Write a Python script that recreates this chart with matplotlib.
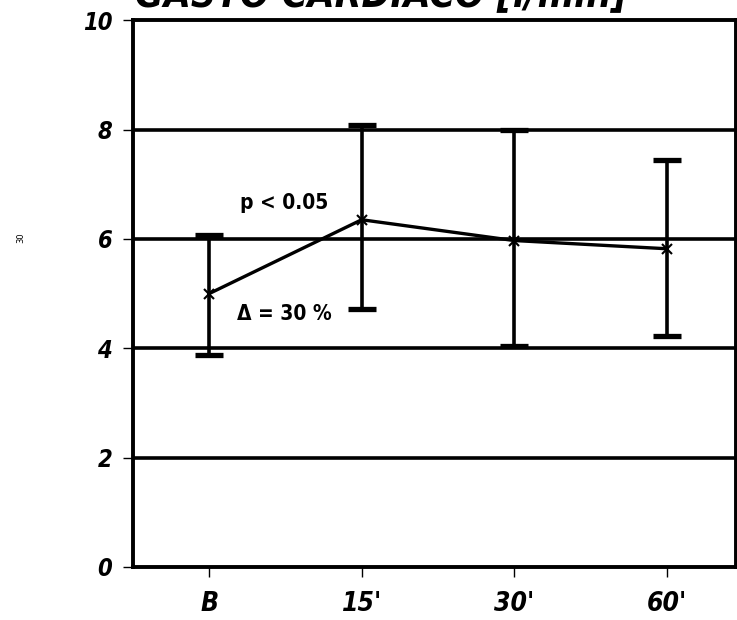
import matplotlib.pyplot as plt
import numpy as np

# cardiac output at each time point, with spread
times = ["B", "15'", "30'", "60'"]
mean_co = [5.0, 6.35, 5.97, 5.82]
upper_co = [6.07, 8.08, 7.99, 7.44]
lower_co = [3.88, 4.72, 4.04, 4.22]
y_ticks = [0, 2, 4, 6, 8, 10]

cond = dict(family='DejaVu Sans', fontstretch='condensed', fontweight='bold')

fig = plt.figure(figsize=(7.37, 6.2), dpi=100)
ax = fig.add_axes([0.1805, 0.0855, 0.818, 0.882])

x = np.arange(len(times))
mean = np.array(mean_co)
err = [mean - np.array(lower_co), np.array(upper_co) - mean]

for yv in [2, 4, 6, 8]:
    ax.axhline(yv, color='black', lw=2.6, zorder=1)

ax.errorbar(x, mean, yerr=err, fmt='none', ecolor='black', elinewidth=2.6,
            capsize=10, capthick=3.8, zorder=2)
ax.plot(x, mean, color='black', lw=2.4, marker='x', ms=7, mew=1.5, zorder=3)

ax.text(0.49, 6.65, 'p < 0.05', fontsize=15, ha='center', va='center', **cond)
ax.text(0.49, 4.63, '\u0394 = 30 %', fontsize=15, ha='center', va='center', **cond)

ax.set_xlim(-0.5, 3.455)
ax.set_ylim(0, 10)
ax.set_xticks(x)
ax.set_xticklabels(times, fontsize=19, fontstyle='italic', **cond)
ax.set_yticks(y_ticks)
ax.set_yticklabels([str(v) for v in y_ticks], fontsize=17, fontstyle='italic', **cond)
ax.tick_params(axis='x', length=7, width=1, pad=10)
ax.tick_params(axis='y', length=7, width=1, pad=8)
for s in ax.spines.values():
    s.set_linewidth(2.8)

fig.text(0.517, 0.99, 'GASTO CARDIACO [l/min]', fontsize=28, fontstyle='italic',
         ha='center', va='baseline', **cond)
fig.text(0.028, 0.617, '30', fontsize=6, rotation=90, ha='center', va='center')

fig.savefig('out.png', dpi=100)
